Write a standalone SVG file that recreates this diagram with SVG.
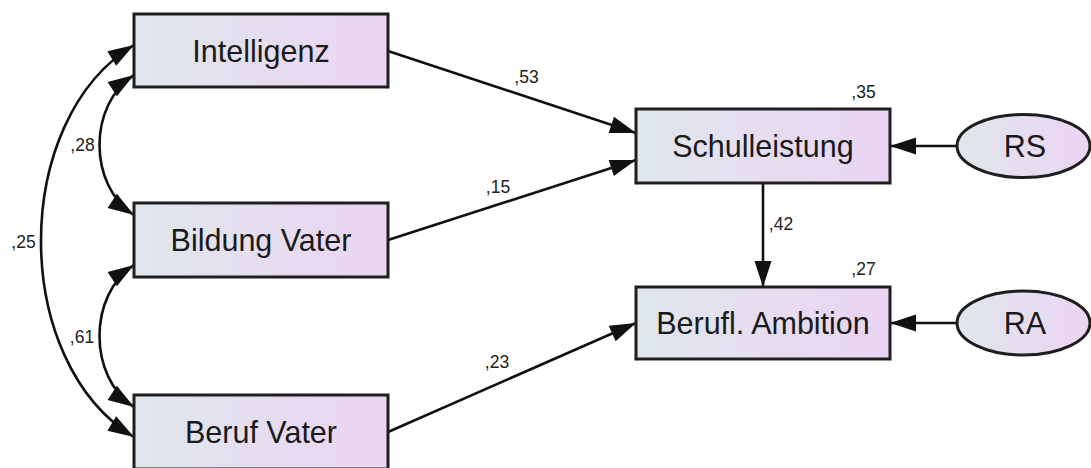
<svg xmlns="http://www.w3.org/2000/svg" width="1091" height="468" viewBox="0 0 1091 468">
  <style>
    .box { fill: url(#g); stroke: #1e1e1e; stroke-width: 3; }
    .nt { font-family: "Liberation Sans", Arial, sans-serif; font-size: 30.5px; fill: #1a1a1a; text-anchor: middle; }
    .lt { font-family: "Liberation Sans", Arial, sans-serif; font-size: 17.5px; fill: #222; text-anchor: middle; }
    .edge { fill: none; stroke: #111; stroke-width: 2.6; }
  </style>
  <defs>
    <linearGradient id="g" x1="0" y1="0" x2="1" y2="0">
      <stop offset="0" stop-color="#dfe7ec"/>
      <stop offset="1" stop-color="#ebd4f3"/>
    </linearGradient>
    <marker id="ah" markerUnits="userSpaceOnUse" markerWidth="30" markerHeight="20" viewBox="-28 -10 30 20" refX="0" refY="0" orient="auto-start-reverse">
      <path d="M0,0 L-26,-8.5 L-26,8.5 Z" fill="#111"/>
    </marker>
  </defs>
  <rect width="1091" height="468" fill="#ffffff"/>

  <g id="connectors">
    <line class="edge" x1="388" y1="51" x2="636" y2="133" marker-end="url(#ah)"/>
    <line class="edge" x1="388" y1="240" x2="636" y2="160" marker-end="url(#ah)"/>
    <line class="edge" x1="388" y1="432" x2="636" y2="323" marker-end="url(#ah)"/>
    <line class="edge" x1="763" y1="183" x2="763" y2="287" marker-end="url(#ah)"/>
    <line class="edge" x1="957" y1="146" x2="890" y2="146" marker-end="url(#ah)"/>
    <line class="edge" x1="957" y1="323" x2="890" y2="323" marker-end="url(#ah)"/>
    <path class="edge" d="M134,75 C88,105 88,185 134,215" marker-start="url(#ah)" marker-end="url(#ah)"/>
    <path class="edge" d="M134,45 C10,120 10,362 134,437" marker-start="url(#ah)" marker-end="url(#ah)"/>
    <path class="edge" d="M134,265 C88,295 88,377 134,407" marker-start="url(#ah)" marker-end="url(#ah)"/>
    <text class="lt" x="82.5" y="151">,28</text>
    <text class="lt" x="23.5" y="248">,25</text>
    <text class="lt" x="82" y="343">,61</text>
    <text class="lt" x="526.5" y="83">,53</text>
    <text class="lt" x="498" y="193">,15</text>
    <text class="lt" x="497" y="368">,23</text>
    <text class="lt" x="781" y="230">,42</text>
  </g>

  <g id="intelligenz">
    <rect class="box" x="134" y="14" width="254" height="73"/>
    <text class="nt" x="261" y="61.5">Intelligenz</text>
  </g>
  <g id="bildung-vater">
    <rect class="box" x="134" y="203" width="254" height="74"/>
    <text class="nt" x="261" y="251">Bildung Vater</text>
  </g>
  <g id="beruf-vater">
    <rect class="box" x="134" y="395" width="254" height="74"/>
    <text class="nt" x="261" y="443">Beruf Vater</text>
  </g>
  <g id="schulleistung">
    <rect class="box" x="636" y="109" width="254" height="74"/>
    <text class="nt" x="763" y="157">Schulleistung</text>
    <text class="lt" x="863.5" y="98">,35</text>
  </g>
  <g id="berufl-ambition">
    <rect class="box" x="636" y="287" width="254" height="72"/>
    <text class="nt" x="763" y="334">Berufl. Ambition</text>
    <text class="lt" x="863.5" y="275">,27</text>
  </g>
  <g id="rs">
    <ellipse class="box" cx="1023.5" cy="146" rx="66.5" ry="31.5"/>
    <text class="nt" x="1025" y="157">RS</text>
  </g>
  <g id="ra">
    <ellipse class="box" cx="1023.5" cy="323" rx="66.5" ry="32"/>
    <text class="nt" x="1025" y="334">RA</text>
  </g>
</svg>
